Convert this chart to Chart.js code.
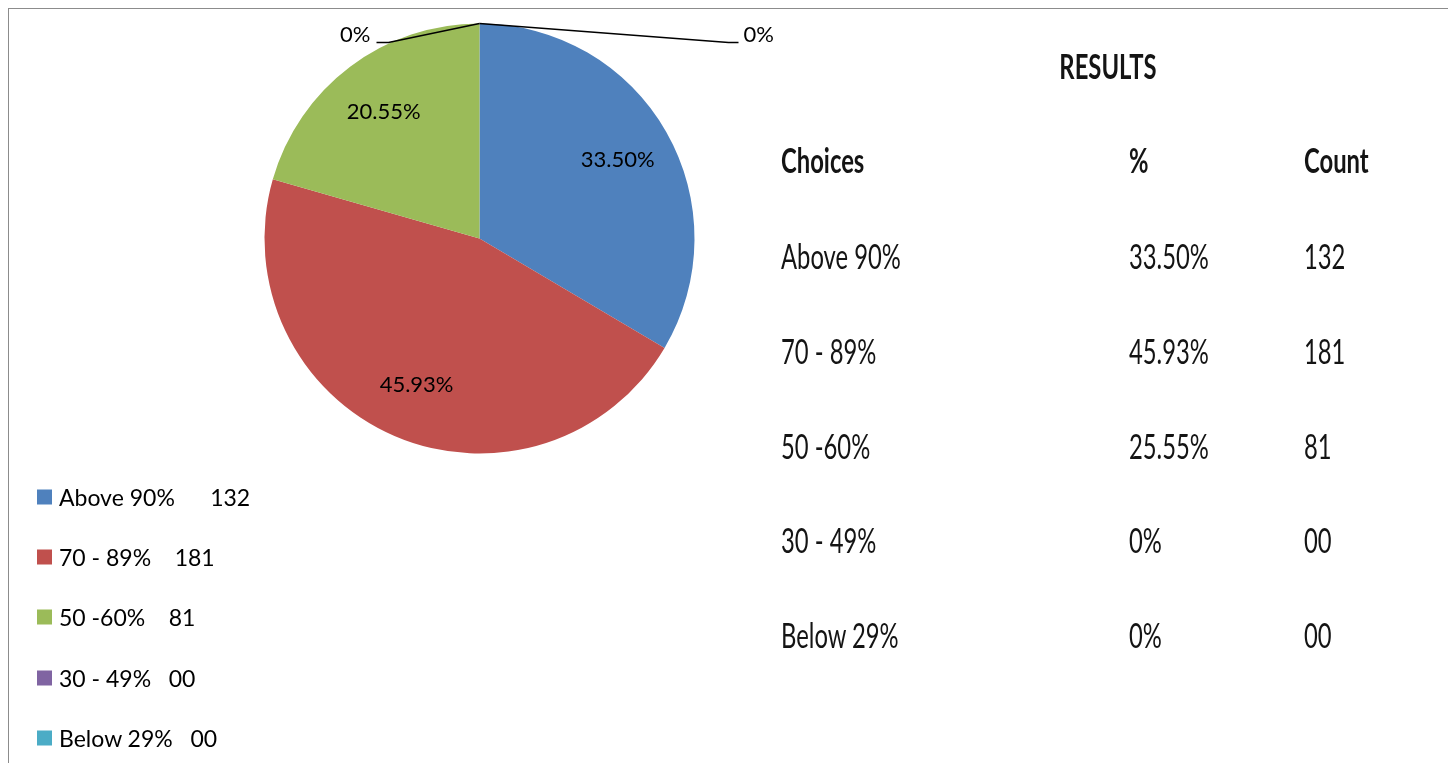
<!DOCTYPE html>
<html>
<head>
<meta charset="utf-8">
<script src="https://cdn.jsdelivr.net/npm/chart.js@4.4.0/dist/chart.umd.min.js"></script>
<style>
  html, body { margin:0; padding:0; width:1448px; height:763px; overflow:hidden; background:#fff; font-family: Lato, sans-serif; }
  #frame { position:absolute; left:8px; top:8px; width:1460px; height:780px; border-top:1px solid #8c8c8c; border-left:1px solid #8c8c8c; }
  #wrap { position:absolute; left:0; top:0; width:1448px; height:763px; }
  .t { position:absolute; white-space:pre; line-height:1; color:#141414; font-family: Lato, sans-serif; font-size:34px;
       transform-origin:0 50%; transform:translateY(-50%) scaleX(0.70); }
  .b { font-weight:700; }
  .c { transform-origin:50% 50%; transform:translate(-50%,-50%) scaleX(0.70); }
  .lg { position:absolute; white-space:pre; line-height:1; color:#000; font-family: Lato, sans-serif; font-size:23px; transform:translateY(-50%); }
  .sq { position:absolute; width:15px; height:15px; transform:translateY(-50%); }
</style>
</head>
<body>
<div id="frame"></div>
<div id="wrap"><canvas id="c"></canvas></div>
<div id="overlay"></div>
<script>
// ---- data ----
const categories = ['Above 90%', '70 - 89%', '50 -60%', '30 - 49%', 'Below 29%'];
const counts = [132, 181, 81, 0, 0];
const sliceLabels = ['33.50%', '45.93%', '20.55%', '0%', '0%'];
const legendLabels = ['Above 90%      132', '70 - 89%    181', '50 -60%    81', '30 - 49%   00', 'Below 29%   00'];
const tableTitle = 'RESULTS';
const tableHeaders = ['Choices', '%', 'Count'];
const tablePercents = ['33.50%', '45.93%', '25.55%', '0%', '0%'];
const tableCounts = ['132', '181', '81', '00', '00'];
const colors = ['#4F81BD', '#C0504D', '#9BBB59', '#8064A2', '#4BACC6'];

const sliceLabelPlugin = {
  id: 'sliceLabels',
  afterDatasetsDraw(chart) {
    const ctx = chart.ctx;
    const meta = chart.getDatasetMeta(0);
    ctx.save();
    ctx.font = '22px Lato';
    ctx.fillStyle = '#000';
    ctx.textBaseline = 'middle';
    let zeroIdx = 0;
    meta.data.forEach((arc, i) => {
      const p = arc.getProps(['x', 'y', 'startAngle', 'endAngle', 'outerRadius'], true);
      const label = sliceLabels[i];
      if (p.endAngle - p.startAngle > 1e-6) {
        const mid = (p.startAngle + p.endAngle) / 2;
        const r = p.outerRadius * 0.74;
        ctx.textAlign = 'center';
        ctx.fillText(label, p.x + r * Math.cos(mid), p.y + r * Math.sin(mid));
      } else {
        const px = p.x + p.outerRadius * Math.cos(p.startAngle);
        const py = p.y + p.outerRadius * Math.sin(p.startAngle);
        const left = zeroIdx === 0;
        const ex = px + (left ? -91 : 249);
        const ey = py + 19;
        const hx = ex + (left ? -12 : 10);
        ctx.beginPath();
        ctx.moveTo(px, py);
        ctx.lineTo(ex, ey);
        ctx.lineTo(hx, ey);
        ctx.strokeStyle = '#000';
        ctx.lineWidth = 1.5;
        ctx.stroke();
        ctx.textAlign = left ? 'right' : 'left';
        ctx.fillText(label, hx + (left ? -6 : 5), ey - 8);
        zeroIdx++;
      }
    });
    ctx.restore();
  }
};

function buildOverlay() {
  const ov = document.getElementById('overlay');
  const add = (cls, text, x, y) => {
    const d = document.createElement('div');
    d.className = cls; d.textContent = text;
    d.style.left = x + 'px'; d.style.top = y + 'px';
    ov.appendChild(d);
  };
  // legend
  legendLabels.forEach((txt, i) => {
    const y = 497 + i * 60.2;
    const s = document.createElement('div');
    s.className = 'sq'; s.style.left = '37px'; s.style.top = y + 'px'; s.style.background = colors[i];
    ov.appendChild(s);
    add('lg', txt, 59, y);
  });
  // table
  add('t b c', tableTitle, 1108, 66);
  const cols = [781, 1129, 1304];
  tableHeaders.forEach((h, j) => add('t b', h, cols[j], 160));
  categories.forEach((cat, i) => {
    const y = 256 + i * 94.8;
    add('t', cat, cols[0], y);
    add('t', tablePercents[i], cols[1], y);
    add('t', tableCounts[i], cols[2], y);
  });
}

Promise.all([
  document.fonts.load('22px Lato'),
  document.fonts.load('23px Lato'),
  document.fonts.load('34px Lato'),
  document.fonts.load('bold 34px Lato')
]).catch(() => {}).then(() => {
  buildOverlay();
  new Chart(document.getElementById('c'), {
    type: 'pie',
    data: {
      labels: categories,
      datasets: [{
        data: counts,
        backgroundColor: colors,
        borderWidth: 0,
        hoverOffset: 0
      }]
    },
    options: {
      responsive: true,
      maintainAspectRatio: false,
      animation: false,
      radius: 215,
      layout: { padding: { left: 0, top: 0, right: 489, bottom: 286 } },
      plugins: {
        legend: { display: false },
        tooltip: { enabled: false }
      }
    },
    plugins: [sliceLabelPlugin]
  });
});
</script>
</body>
</html>
